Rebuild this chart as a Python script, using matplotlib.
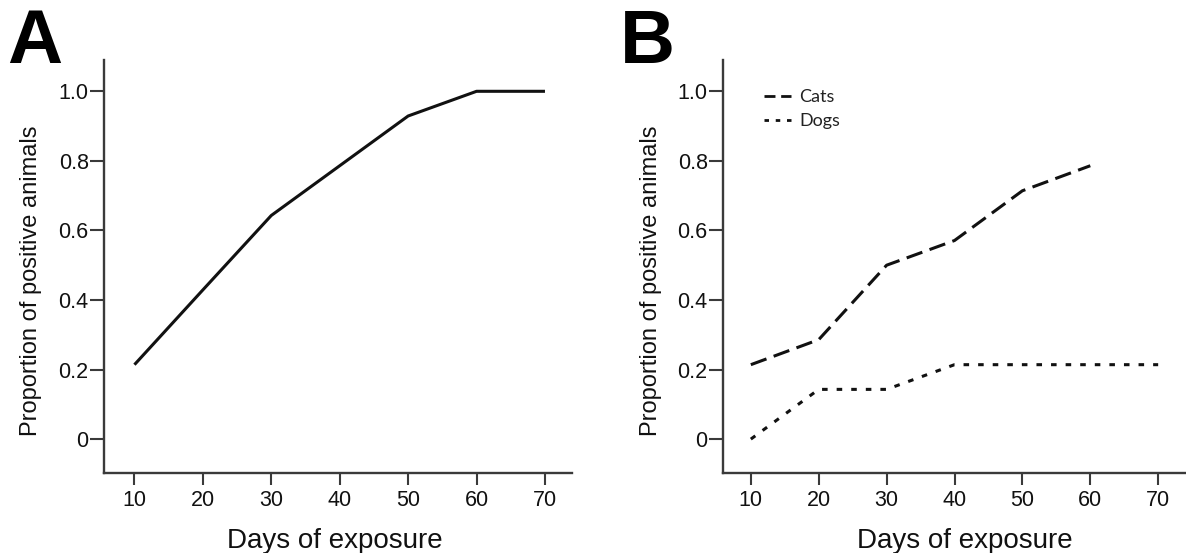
import matplotlib
matplotlib.use("Agg")
import matplotlib.pyplot as plt
from matplotlib.lines import Line2D

plt.rcParams['font.family'] = ['Liberation Sans', 'DejaVu Sans']
plt.rcParams['lines.scale_dashes'] = False

# ---- data ----
days = [10, 20, 30, 40, 50, 60, 70]
prop_all = [0.214, 0.429, 0.643, 0.786, 0.929, 1.0, 1.0]
days_cats = [10, 20, 30, 40, 50, 60]
prop_cats = [0.214, 0.286, 0.5, 0.571, 0.714, 0.786]
days_dogs = [10, 20, 30, 40, 50, 60, 70]
prop_dogs = [0.0, 0.143, 0.143, 0.214, 0.214, 0.214, 0.214]
xticks = [10, 20, 30, 40, 50, 60, 70]
yticks = [0, 0.2, 0.4, 0.6, 0.8, 1.0]
yticklabels = ['0', '0.2', '0.4', '0.6', '0.8', '1.0']
xlabel = 'Days of exposure'
ylabel = 'Proportion of positive animals'
legend_labels = ['Cats', 'Dogs']

W, H = 1186, 553
fig = plt.figure(figsize=(W / 100, H / 100), dpi=100)
fig.patch.set_facecolor('white')

bot = H - 472.5
hgt = 412.5
axA = fig.add_axes([104 / W, bot / H, 468 / W, hgt / H])
axB = fig.add_axes([723 / W, bot / H, 463 / W, hgt / H])

lw = 2.2
ink = '#111111'
axA.plot(days, prop_all, color=ink, lw=lw, solid_capstyle='butt')
axB.plot(days_cats, prop_cats, color=ink, lw=lw, dashes=(12, 5.5),
         dash_capstyle='butt')
axB.plot(days_dogs, prop_dogs, color=ink, lw=lw, dashes=(4, 6.5),
         dash_capstyle='butt')

axA.set_xlim(5.55, 73.95)
axB.set_xlim(5.9, 74.1)
label_x = {axA: 0.4925, axB: 0.5216}

for ax in (axA, axB):
    ax.set_ylim(-0.096, 1.09)
    for s in ('top', 'right'):
        ax.spines[s].set_visible(False)
    for s in ('left', 'bottom'):
        ax.spines[s].set_linewidth(1.7)
        ax.spines[s].set_color('#3a3a3a')
    ax.set_xticks(xticks)
    ax.set_xticklabels([str(x) for x in xticks])
    ax.set_yticks(yticks)
    ax.set_yticklabels(yticklabels)
    ax.tick_params(axis='both', direction='out', width=1.5,
                   color='#3a3a3a', labelsize=15.5, labelcolor=ink)
    ax.tick_params(axis='x', length=8.6, pad=4)
    ax.tick_params(axis='y', length=10, pad=1)
    ax.set_xlabel(xlabel, fontsize=20, color=ink)
    ax.xaxis.label.set_va('baseline')
    ax.xaxis.set_label_coords(label_x[ax], (472.5 - 548) / hgt)
    ax.set_ylabel(ylabel, fontsize=17, color=ink)
    ax.yaxis.label.set_va('center')
    ax.yaxis.set_label_coords(-0.156, 0.465)

fig.text(7 / W, (H - 63) / H, 'A', fontsize=55, fontweight='bold',
         ha='left', va='baseline', color='black')
fig.text(620 / W, (H - 63) / H, 'B', fontsize=55, fontweight='bold',
         ha='left', va='baseline', color='black')

handles = [Line2D([], [], color=ink, lw=2.0, dashes=(7.9, 4.1), dash_capstyle='butt'),
           Line2D([], [], color=ink, lw=2.0, dashes=(3.24, 4.86), dash_capstyle='butt')]
leg = axB.legend(handles, legend_labels, loc='upper left',
                 bbox_to_anchor=(764 / W, (H - 89) / H),
                 bbox_transform=fig.transFigure, frameon=False,
                 prop={'family': ['Lato', 'DejaVu Sans'], 'size': 13},
                 handlelength=1.5, handletextpad=0.45, labelspacing=0.45,
                 borderpad=0, borderaxespad=0)
for t in leg.get_texts():
    t.set_color('#222222')

fig.savefig('out.png', dpi=100)
